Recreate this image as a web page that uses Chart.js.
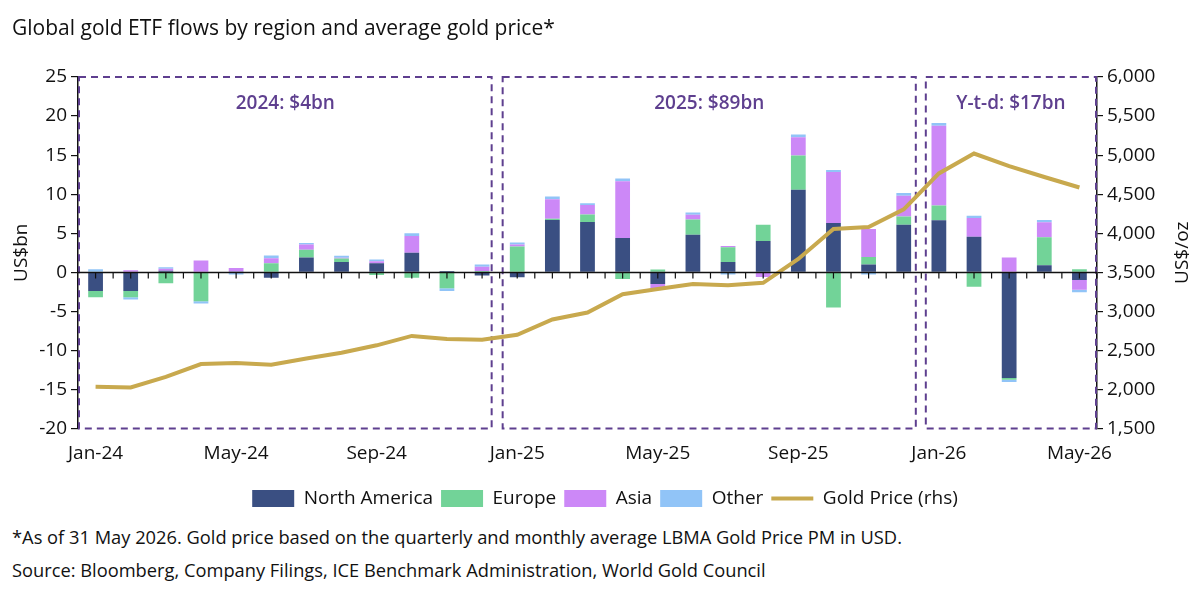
<!DOCTYPE html>
<html>
<head>
<meta charset="utf-8">
<script src="https://cdn.jsdelivr.net/npm/chart.js@4.4.1/dist/chart.umd.min.js"></script>
<style>
  body { margin: 0; background: #fff; font-family: "Open Sans", sans-serif; color: #111; }
  #wrap { position: relative; width: 1200px; height: 592px; overflow: hidden; }
  #title { position: absolute; left: 12px; top: 13px; font-size: 21px; }
  #chartBox { position: absolute; left: 0; top: 0; width: 1200px; height: 518px; }
  .note { position: absolute; left: 12px; font-size: 18.3px; }
</style>
</head>
<body>
<div id="wrap">
  <div id="chartBox"><canvas id="chart"></canvas></div>
  <div id="title">Global gold ETF flows by region and average gold price*</div>
  <div class="note" style="top:524px">*As of 31 May 2026. Gold price based on the quarterly and monthly average LBMA Gold Price PM in USD.</div>
  <div class="note" style="top:557px">Source: Bloomberg, Company Filings, ICE Benchmark Administration, World Gold Council</div>
</div>
<script>
// Months on the x axis
const months = [
  "Jan-24", "Feb-24", "Mar-24", "Apr-24", "May-24", "Jun-24", "Jul-24", "Aug-24", "Sep-24", "Oct-24", "Nov-24", "Dec-24",
  "Jan-25", "Feb-25", "Mar-25", "Apr-25", "May-25", "Jun-25", "Jul-25", "Aug-25", "Sep-25", "Oct-25", "Nov-25", "Dec-25",
  "Jan-26", "Feb-26", "Mar-26", "Apr-26", "May-26"
];

// ETF flows by region (US$bn)
const northAmerica = [-2.4, -2.4, 0.2, 0, 0.1, -0.7, 1.9, 1.3, 1.15, 2.5, 0.15, -0.4,
  -0.65, 6.7, 6.45, 4.4, -1.5, 4.8, 1.3, 4.0, 10.55, 6.3, 1.0, 6.1,
  6.65, 4.55, -13.55, 0.9, -1.0];
const europe = [-0.8, -0.8, -1.4, -3.7, 0, 1.15, 1.0, 0.45, -0.35, -0.7, -2.05, 0.15,
  3.3, 0.15, 0.95, -0.85, 0.35, 1.95, 1.9, 2.1, 4.4, -4.5, 0.95, 1.05,
  1.9, -1.85, -0.2, 3.6, 0.4];
const asia = [0, 0.25, 0.25, 1.5, 0.45, 0.65, 0.65, 0.1, 0.25, 2.15, 0, 0.55,
  0.25, 2.5, 1.2, 7.25, -0.5, 0.6, 0.15, -0.6, 2.35, 6.55, 3.6, 2.65,
  10.2, 2.4, 1.9, 1.9, -1.25];
const other = [0.4, -0.3, 0.2, -0.3, -0.3, 0.35, 0.2, 0.25, 0.25, 0.35, -0.35, 0.3,
  0.25, 0.35, 0.25, 0.35, 0, 0.3, -0.3, 0, 0.35, 0.25, -0.3, 0.35,
  0.35, 0.3, -0.3, 0.3, -0.3];

// Average gold price (US$/oz, right axis)
const goldPrice = [2035, 2025, 2160, 2325, 2340, 2315, 2395, 2470, 2565, 2685, 2645, 2635,
  2700, 2895, 2985, 3220, 3285, 3350, 3335, 3365, 3670, 4055, 4080, 4305,
  4765, 5020, 4860, 4720, 4585];

// Period boxes: first and last month index, and their label
const periodStart = [0, 12, 24];
const periodEnd = [11, 23, 28];
const periodLabels = ["2024: $4bn", "2025: $89bn", "Y-t-d: $17bn"];

const FONT = "'Open Sans', sans-serif";
const PURPLE = "#5e3f8f";

// gap between each dashed box edge and the month boundary
const boxInsetLeft = [0, 3, 4.5];
const boxInsetRight = [8, 5.5, 0];

// Draws the dashed period boxes, their labels, the zero line and the axis titles
const periodBoxes = {
  id: "periodBoxes",
  beforeDatasetsDraw(chart) {
    const { ctx, chartArea, scales } = chart;
    const x = scales.x;
    const half = (x.getPixelForValue(1) - x.getPixelForValue(0)) / 2;
    ctx.save();
    ctx.strokeStyle = PURPLE;
    ctx.lineWidth = 2;
    ctx.setLineDash([7, 5]);
    for (let i = 0; i < periodStart.length; i++) {
      let left = x.getPixelForValue(periodStart[i]) - half + boxInsetLeft[i];
      let right = x.getPixelForValue(periodEnd[i]) + half - boxInsetRight[i];
      if (i === 0) left = chartArea.left + 1;
      if (i === periodStart.length - 1) right = chartArea.right - 1;
      ctx.strokeRect(left, chartArea.top, right - left, chartArea.bottom - chartArea.top);
      ctx.fillStyle = PURPLE;
      ctx.font = "600 19px " + FONT;
      ctx.textAlign = "center";
      ctx.textBaseline = "middle";
      ctx.fillText(periodLabels[i], (left + right) / 2, chartArea.top + 27);
    }
    ctx.restore();
  },
  afterDatasetsDraw(chart) {
    // zero line with tick marks at every month centre and boundary
    const { ctx, chartArea, scales } = chart;
    const x = scales.x;
    const y0 = Math.round(scales.y.getPixelForValue(0)) + 0.5;
    const half = (x.getPixelForValue(1) - x.getPixelForValue(0)) / 2;
    ctx.save();
    ctx.strokeStyle = "#111";
    ctx.lineWidth = 1.5;
    ctx.beginPath();
    ctx.moveTo(chartArea.left, y0);
    ctx.lineTo(chartArea.right, y0);
    ctx.stroke();
    ctx.lineWidth = 1.2;
    ctx.beginPath();
    for (let i = 0; i < months.length; i++) {
      const cx = x.getPixelForValue(i);
      ctx.moveTo(cx, y0);
      ctx.lineTo(cx, y0 + 6);
      ctx.moveTo(cx + half, y0);
      ctx.lineTo(cx + half, y0 + 6);
    }
    ctx.stroke();
    ctx.restore();
  },
  afterDraw(chart) {
    const { ctx, chartArea } = chart;
    const midY = (chartArea.top + chartArea.bottom) / 2;
    [[22, "US$bn"], [1183, "US$/oz"]].forEach(([tx, text]) => {
      ctx.save();
      ctx.fillStyle = "#111";
      ctx.font = "19px " + FONT;
      ctx.textAlign = "center";
      ctx.textBaseline = "middle";
      ctx.translate(tx, midY);
      ctx.rotate(-Math.PI / 2);
      ctx.fillText(text, 0, 0);
      ctx.restore();
    });
  }
};

function barSet(label, data, color) {
  return {
    type: "bar",
    label: label,
    data: data,
    backgroundColor: color,
    borderWidth: 0,
    yAxisID: "y",
    barPercentage: 0.42,
    categoryPercentage: 1,
    order: 1
  };
}

const chart = new Chart(document.getElementById("chart"), {
  data: {
    labels: months,
    datasets: [
      barSet("North America", northAmerica, "#3a4f82"),
      barSet("Europe", europe, "#72d398"),
      barSet("Asia", asia, "#cc88f7"),
      barSet("Other", other, "#91c4f7"),
      {
        type: "line",
        label: "Gold Price (rhs)",
        data: goldPrice,
        borderColor: "#c8a94e",
        backgroundColor: "#c8a94e",
        borderWidth: 4,
        pointRadius: 0,
        tension: 0,
        yAxisID: "y1",
        order: 0
      }
    ]
  },
  options: {
    responsive: true,
    maintainAspectRatio: false,
    animation: false,
    layout: { padding: { top: 77, left: 10, right: 0, bottom: 0 } },
    scales: {
      x: {
        stacked: true,
        offset: true,
        grid: { display: false },
        border: { display: false },
        ticks: {
          autoSkip: false,
          maxRotation: 0,
          padding: 6,
          color: "#111",
          font: { family: FONT, size: 19 },
          callback: function (value, index) {
            return index % 4 === 0 ? months[index] : "";
          }
        },
        afterFit: (s) => { s.height = 52.5; }
      },
      y: {
        stacked: true,
        position: "left",
        min: -20,
        max: 25,
        ticks: { stepSize: 5, padding: 4, color: "#111", font: { family: FONT, size: 19 } },
        grid: { drawOnChartArea: false, drawTicks: true, tickLength: 7, color: "#111", lineWidth: 1.2 },
        border: { display: true, color: "#111", width: 1.5 },
        afterFit: (s) => { s.width = 68; }
      },
      y1: {
        position: "right",
        min: 1500,
        max: 6000,
        ticks: { stepSize: 500, padding: 4, color: "#111", font: { family: FONT, size: 19 } },
        grid: { drawOnChartArea: false, drawTicks: true, tickLength: 6, color: "#111", lineWidth: 1.2 },
        border: { display: true, color: "#111", width: 1.5 },
        afterFit: (s) => { s.width = 103; }
      }
    },
    plugins: {
      legend: {
        position: "bottom",
        labels: {
          usePointStyle: true,
          pointStyleWidth: 42,
          boxHeight: 17,
          padding: 8,
          color: "#111",
          font: { family: FONT, size: 19 },
          sort: (a, b) => a.datasetIndex - b.datasetIndex,
          generateLabels: function (c) {
            const items = Chart.defaults.plugins.legend.labels.generateLabels(c);
            return items.map((item) => {
              if (item.datasetIndex === 4) {
                item.pointStyle = "line";
                item.lineWidth = 4;
                item.strokeStyle = "#c8a94e";
              } else {
                item.pointStyle = "rect";
                item.lineWidth = 0;
              }
              return item;
            });
          }
        }
      },
      tooltip: { enabled: false }
    }
  },
  plugins: [periodBoxes]
});
</script>
</body>
</html>
